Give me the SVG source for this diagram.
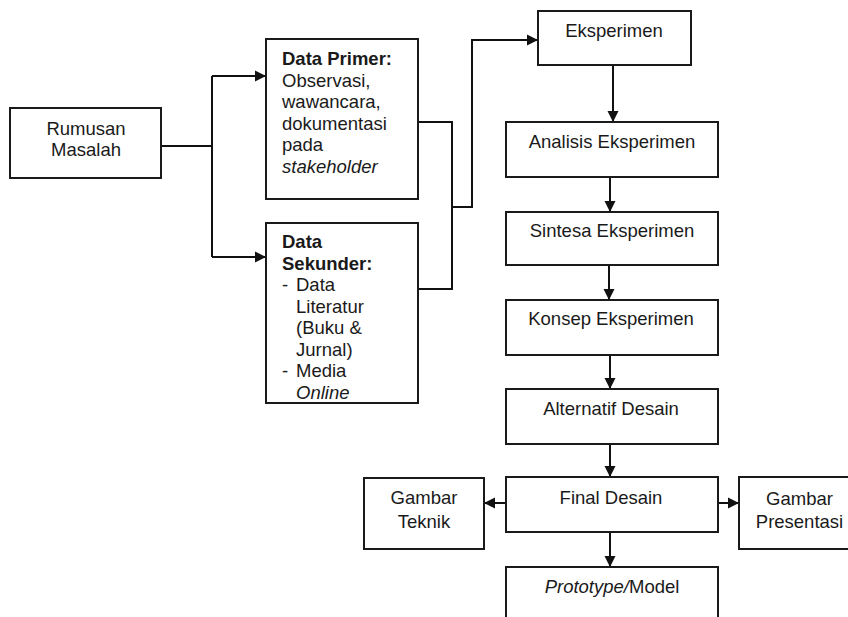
<svg xmlns="http://www.w3.org/2000/svg" width="848" height="617" viewBox="0 0 848 617">
<style>
.box{fill:#fff;stroke:#1a1a1a;stroke-width:2}
.t{font-family:"Liberation Sans",Arial,sans-serif;font-size:18.5px;fill:#1a1a1a}
.c{text-anchor:middle}
.b{font-weight:bold}
.i{font-style:italic}
.ln{fill:none;stroke:#111;stroke-width:2}
</style>
<defs>
<marker id="ah" markerUnits="userSpaceOnUse" markerWidth="12" markerHeight="12" viewBox="0 0 12 12" refX="11" refY="6" orient="auto">
<path d="M0,0.5 L11,6 L0,11.5 Z" fill="#111"/>
</marker>
</defs>
<rect width="848" height="617" fill="#fff"/>
<g id="connectors">
<polyline class="ln" points="161,146 212,146"/>
<polyline class="ln" points="212,76 212,257"/>
<line class="ln" x1="212" y1="76" x2="266" y2="76" marker-end="url(#ah)"/>
<line class="ln" x1="212" y1="257" x2="266" y2="257" marker-end="url(#ah)"/>
<polyline class="ln" points="418,122 452,122 452,289 418,289"/>
<polyline class="ln" points="452,207 472,207 472,40 538,40" marker-end="url(#ah)"/>
<line class="ln" x1="613" y1="65" x2="613" y2="122" marker-end="url(#ah)"/>
<line class="ln" x1="610" y1="177" x2="610" y2="212" marker-end="url(#ah)"/>
<line class="ln" x1="609" y1="265" x2="609" y2="300" marker-end="url(#ah)"/>
<line class="ln" x1="610" y1="355" x2="610" y2="389" marker-end="url(#ah)"/>
<line class="ln" x1="610" y1="444" x2="610" y2="477" marker-end="url(#ah)"/>
<line class="ln" x1="610" y1="532" x2="610" y2="567" marker-end="url(#ah)"/>
<line class="ln" x1="506" y1="503" x2="484" y2="503" marker-end="url(#ah)"/>
<line class="ln" x1="718" y1="503" x2="739" y2="503" marker-end="url(#ah)"/>
</g>
<g id="rumusan">
<rect class="box" x="10" y="108" width="151" height="70"/>
<text class="t c" x="86" y="135">Rumusan</text>
<text class="t c" x="86" y="156">Masalah</text>
</g>
<g id="data-primer">
<rect class="box" x="266" y="39" width="152" height="160"/>
<text class="t b" x="282" y="65">Data Primer:</text>
<text class="t" x="282" y="86.5">Observasi,</text>
<text class="t" x="282" y="108">wawancara,</text>
<text class="t" x="282" y="129.5">dokumentasi</text>
<text class="t" x="282" y="151">pada</text>
<text class="t i" x="282" y="172.5">stakeholder</text>
</g>
<g id="data-sekunder">
<rect class="box" x="266" y="223" width="152" height="180"/>
<text class="t b" x="282" y="248">Data</text>
<text class="t b" x="282" y="269.5">Sekunder:</text>
<text class="t" x="282" y="291">-</text>
<text class="t" x="296" y="291">Data</text>
<text class="t" x="296" y="312.5">Literatur</text>
<text class="t" x="296" y="334">(Buku &amp;</text>
<text class="t" x="296" y="355.5">Jurnal)</text>
<text class="t" x="282" y="377">-</text>
<text class="t" x="296" y="377">Media</text>
<text class="t i" x="296" y="398.5">Online</text>
</g>
<g id="eksperimen">
<rect class="box" x="538" y="11" width="153" height="54"/>
<text class="t c" x="614" y="37">Eksperimen</text>
</g>
<g id="analisis">
<rect class="box" x="506" y="122" width="212" height="55"/>
<text class="t c" x="612" y="148">Analisis Eksperimen</text>
</g>
<g id="sintesa">
<rect class="box" x="506" y="212" width="212" height="53"/>
<text class="t c" x="612" y="237">Sintesa Eksperimen</text>
</g>
<g id="konsep">
<rect class="box" x="506" y="300" width="212" height="55"/>
<text class="t c" x="611" y="325">Konsep Eksperimen</text>
</g>
<g id="alternatif">
<rect class="box" x="506" y="389" width="212" height="55"/>
<text class="t c" x="611" y="415">Alternatif Desain</text>
</g>
<g id="final">
<rect class="box" x="506" y="477" width="212" height="55"/>
<text class="t c" x="611" y="504">Final Desain</text>
</g>
<g id="gambar-teknik">
<rect class="box" x="364" y="478" width="120" height="71"/>
<text class="t c" x="424" y="504">Gambar</text>
<text class="t c" x="424" y="528">Teknik</text>
</g>
<g id="gambar-presentasi">
<rect class="box" x="739" y="477" width="130" height="72"/>
<text class="t c" x="799.5" y="505">Gambar</text>
<text class="t c" x="799.5" y="528">Presentasi</text>
</g>
<g id="prototype">
<rect class="box" x="506" y="567" width="212" height="70"/>
<text class="t c" x="612" y="593"><tspan class="i">Prototype/</tspan>Model</text>
</g>
</svg>
